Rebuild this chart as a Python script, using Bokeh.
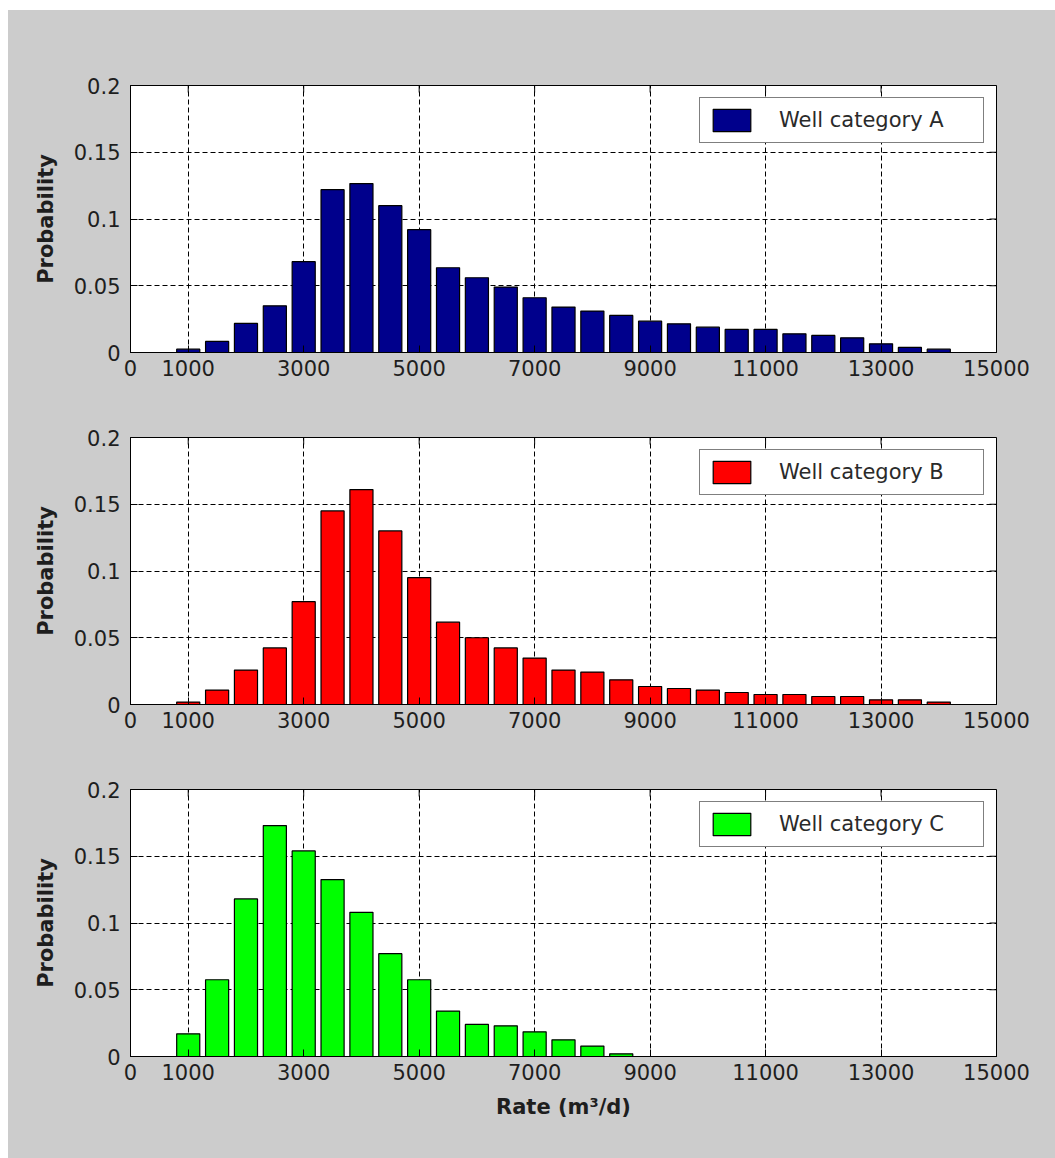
import math
from bokeh.plotting import figure
from bokeh.models import FixedTicker, Range1d, Legend, LegendItem
from bokeh.layouts import column
from bokeh.embed import file_html
from bokeh.resources import INLINE

# ---- data ----
rate_bins = [1000, 1500, 2000, 2500, 3000, 3500, 4000, 4500, 5000, 5500, 6000, 6500, 7000,
             7500, 8000, 8500, 9000, 9500, 10000, 10500, 11000, 11500, 12000, 12500, 13000,
             13500, 14000]
prob_a = [0.0025, 0.0083, 0.0218, 0.035, 0.068, 0.122, 0.1265, 0.110, 0.092, 0.0635, 0.056,
          0.049, 0.041, 0.034, 0.031, 0.0278, 0.0235, 0.0215, 0.019, 0.0173, 0.0173, 0.014,
          0.0128, 0.011, 0.0065, 0.0038, 0.0025]
prob_b = [0.0018, 0.0108, 0.0258, 0.0424, 0.077, 0.145, 0.161, 0.130, 0.095, 0.0617, 0.050,
          0.0424, 0.0348, 0.0258, 0.0243, 0.0185, 0.0135, 0.012, 0.0108, 0.009, 0.0075, 0.0075,
          0.006, 0.006, 0.0035, 0.0035, 0.0018]
rate_bins_c = rate_bins[:16]
prob_c = [0.017, 0.0575, 0.118, 0.173, 0.154, 0.1325, 0.108, 0.077, 0.0575, 0.034, 0.024,
          0.023, 0.0185, 0.0125, 0.0078, 0.002]

x_ticks = [0, 1000, 3000, 5000, 7000, 9000, 11000, 13000, 15000]
y_ticks = [0, 0.05, 0.1, 0.15, 0.2]
y_tick_labels = {0: "0", 0.05: "0.05", 0.1: "0.1", 0.15: "0.15", 0.2: "0.2"}
x_lim = (0, 15000)
y_lim = (0, 0.2)
labels = ["Well category A", "Well category B", "Well category C"]
colors = ["#00008C", "#FF0000", "#00FF00"]
y_title = "Probability"
x_title = "Rate (m\u00b3/d)"

FONT = "DejaVu Sans"
TXT = "#1e1e1e"
BG = "#cccccc"


def style_axis(ax):
    ax.axis_line_color = "black"
    ax.axis_line_width = 1
    ax.major_tick_in = 7
    ax.major_tick_out = 0
    ax.minor_tick_line_color = None
    ax.major_tick_line_color = "black"
    ax.major_label_text_font = FONT
    ax.major_label_text_color = TXT
    ax.major_label_text_font_size = "21px"


def panel(xs, ys, color, label, top_b, bottom_b, xlabel=None):
    p = figure(frame_width=866, frame_height=267,
               x_range=Range1d(*x_lim), y_range=Range1d(*y_lim),
               output_backend="svg", toolbar_location=None,
               min_border_left=122, min_border_right=59,
               min_border_top=top_b, min_border_bottom=bottom_b,
               border_fill_color=BG, background_fill_color="white",
               outline_line_color="black", outline_line_width=1)
    r = p.vbar(x=xs, top=ys, bottom=0, width=400, fill_color=color,
               line_color="black", line_width=1.2)

    p.xaxis.ticker = FixedTicker(ticks=x_ticks)
    p.yaxis.ticker = FixedTicker(ticks=y_ticks)
    p.yaxis.major_label_overrides = y_tick_labels
    style_axis(p.xaxis[0])
    style_axis(p.yaxis[0])
    p.xaxis.major_label_standoff = 7
    p.yaxis.major_label_standoff = 10

    p.yaxis.axis_label = y_title
    p.yaxis.axis_label_text_font = FONT
    p.yaxis.axis_label_text_font_style = "bold"
    p.yaxis.axis_label_text_font_size = "21px"
    p.yaxis.axis_label_text_color = TXT
    p.yaxis.axis_label_standoff = 13
    if xlabel:
        p.xaxis.axis_label = xlabel
        p.xaxis.axis_label_text_font = FONT
        p.xaxis.axis_label_text_font_style = "bold"
        p.xaxis.axis_label_text_font_size = "21px"
        p.xaxis.axis_label_text_color = TXT
        p.xaxis.axis_label_standoff = 12

    # inward ticks on the top and right edges of the box (MATLAB "box on")
    p.ray(x=x_ticks, y=[y_lim[1]] * len(x_ticks), length=7, length_units="screen",
          angle=-math.pi / 2, line_color="black", line_width=1)
    p.ray(x=[x_lim[1]] * len(y_ticks), y=y_ticks, length=7, length_units="screen",
          angle=math.pi, line_color="black", line_width=1)

    for g in (p.xgrid[0], p.ygrid[0]):
        g.grid_line_color = "black"
        g.grid_line_dash = "5 3"
        g.grid_line_width = 1
    p.xgrid.ticker = FixedTicker(ticks=x_ticks)
    p.ygrid.ticker = FixedTicker(ticks=y_ticks)

    leg = Legend(items=[LegendItem(label=label, renderers=[r])],
                 location="top_right", margin=12, padding=8,
                 glyph_width=47, glyph_height=28, label_standoff=24,
                 label_width=196, label_height=28, spacing=0,
                 label_text_font=FONT, label_text_font_size="21px",
                 label_text_color="#2a2a2a",
                 border_line_color="black", border_line_width=1,
                 background_fill_color="white", background_fill_alpha=1.0)
    p.add_layout(leg)
    return p


pa = panel(rate_bins, prob_a, colors[0], labels[0], 75, 48)
pb = panel(rate_bins, prob_b, colors[1], labels[1], 37, 48)
pc = panel(rate_bins_c, prob_c, colors[2], labels[2], 37, 102, xlabel=x_title)

layout = column(pa, pb, pc, spacing=0, margin=(10, 0, 0, 8),
                styles={"background-color": BG})

open("out.html", "w").write(file_html(layout, INLINE))
